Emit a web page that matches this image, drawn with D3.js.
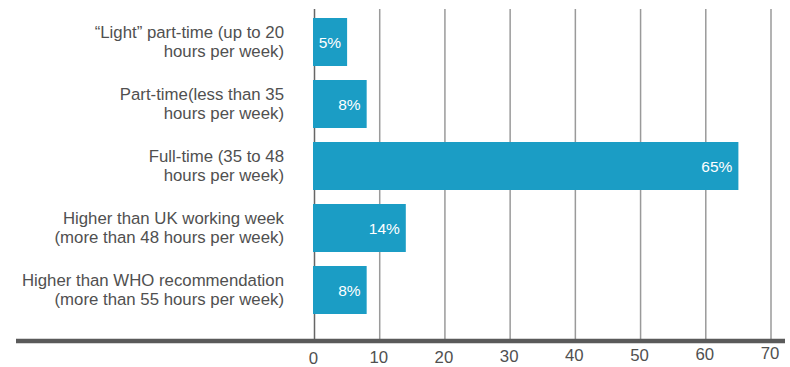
<!DOCTYPE html>
<html>
<head>
<meta charset="utf-8">
<script src="https://cdn.jsdelivr.net/npm/d3@7"></script>
<style>
  html, body { margin: 0; padding: 0; background: #fff; }
  svg { display: block; font-family: "Liberation Sans", Arial, Helvetica, sans-serif; }
</style>
</head>
<body>
<svg id="chart" width="790" height="367"></svg>
<script>
// Weekly working-hours categories (two-line labels) and their shares in percent
const categories = [
  ["\u201CLight\u201D part-time (up to 20", "hours per week)"],
  ["Part-time(less than 35", "hours per week)"],
  ["Full-time (35 to 48", "hours per week)"],
  ["Higher than UK working week", "(more than 48 hours per week)"],
  ["Higher than WHO recommendation", "(more than 55 hours per week)"]
];
const shares = [5, 8, 65, 14, 8];
const tickValues = [0, 10, 20, 30, 40, 50, 60, 70];

const svg = d3.select("#chart");
const barColor = "#1b9dc5";
const textColor = "#505050";
const axisY = 341;

const x = d3.scaleLinear().domain([0, 70]).range([314.5, 771]);
const y = d3.scaleBand()
  .domain(d3.range(categories.length))
  .range([11, 321])
  .paddingInner(0.226)
  .paddingOuter(0.113);

// vertical gridlines
svg.append("g")
  .selectAll("line")
  .data(tickValues)
  .join("line")
  .attr("x1", d => x(d)).attr("x2", d => x(d))
  .attr("y1", 9).attr("y2", axisY)
  .attr("stroke", d => d === 0 ? "#666" : "#9a9a9a")
  .attr("stroke-width", 1.5);

// bars
svg.append("g")
  .selectAll("rect")
  .data(shares)
  .join("rect")
  .attr("x", x(0) - 1.5)
  .attr("y", (d, i) => y(i))
  .attr("width", d => x(d) - x(0) + 1.5)
  .attr("height", y.bandwidth())
  .attr("fill", barColor);

// value labels inside bars
svg.append("g")
  .selectAll("text")
  .data(shares)
  .join("text")
  .attr("x", d => x(d) - 6)
  .attr("y", (d, i) => y(i) + y.bandwidth() / 2 + 5.5)
  .attr("text-anchor", "end")
  .attr("fill", "#fff")
  .style("font-size", "15.5px")
  .text(d => d + "%");

// category labels
const cat = svg.append("g")
  .selectAll("text")
  .data(categories)
  .join("text")
  .attr("text-anchor", "end")
  .attr("fill", textColor)
  .style("font-size", "16.8px");
cat.each(function(lines, i) {
  const cy = y(i) + y.bandwidth() / 2;
  d3.select(this).selectAll("tspan")
    .data(lines)
    .join("tspan")
    .attr("x", 284)
    .attr("y", (l, j) => cy - 4.5 + j * 19)
    .text(l => l);
});

// baseline axis bar
svg.append("line")
  .attr("x1", 16).attr("x2", 785)
  .attr("y1", axisY).attr("y2", axisY)
  .attr("stroke", "#5a5a5a")
  .attr("stroke-width", 4.5);

// tick labels (baseline rises slightly to the right)
svg.append("g")
  .selectAll("text")
  .data(tickValues)
  .join("text")
  .attr("x", d => x(d) - 1)
  .attr("y", (d, i) => axisY + 23 - i * 0.7)
  .attr("text-anchor", "middle")
  .attr("fill", textColor)
  .style("font-size", "16.8px")
  .text(d => d);
</script>
</body>
</html>
